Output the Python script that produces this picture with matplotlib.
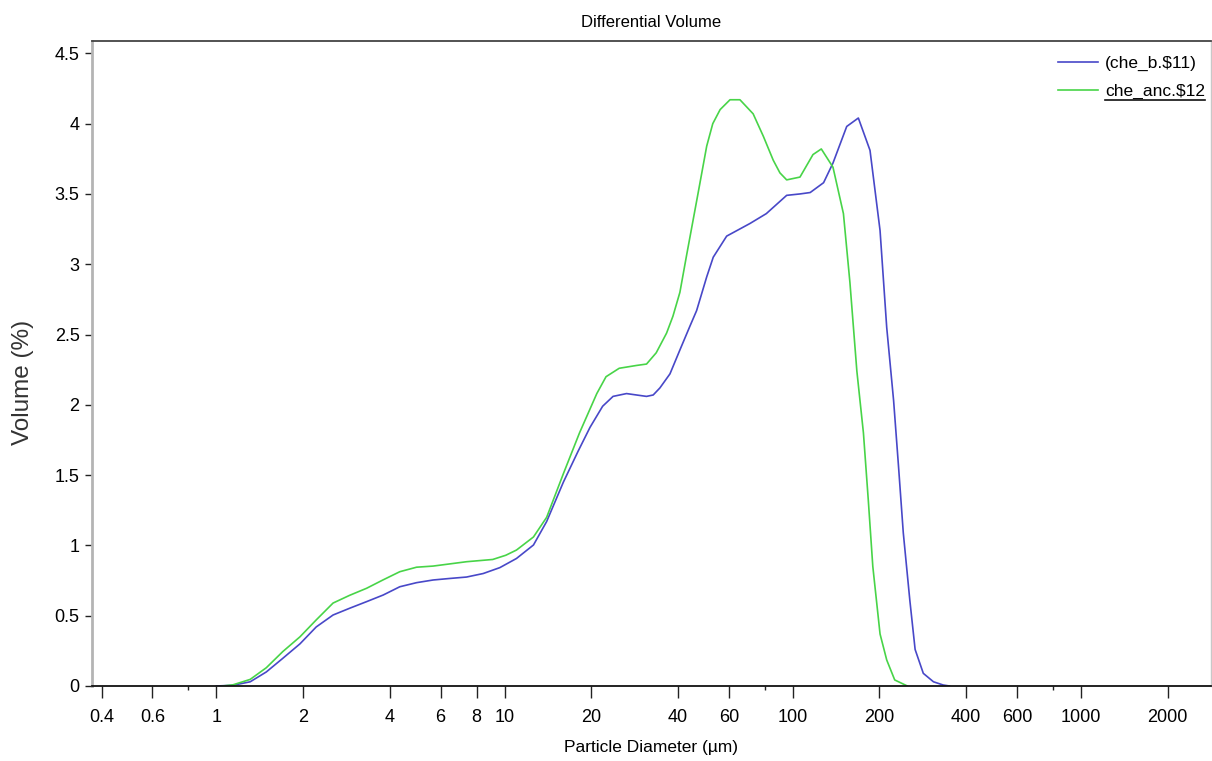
import matplotlib
matplotlib.use('Agg')
import matplotlib.pyplot as plt
from matplotlib.lines import Line2D
from matplotlib.ticker import FixedLocator, NullFormatter

# che_b.$11 (blue)
diam_b = [1.0, 1.14, 1.31, 1.49, 1.70, 1.95, 2.22, 2.54, 2.90, 3.32, 3.79, 4.33,
          4.95, 5.65, 6.46, 7.38, 8.43, 9.63, 11.0, 12.6, 14.0, 16.0, 18.0, 19.8,
          21.9, 23.8, 26.5, 28.7, 31.1, 32.8, 34.6, 37.5, 40.6, 44.0, 46.4, 50.3,
          53.0, 59.0, 71.1, 81.0, 95.3, 106, 115, 128, 138, 154, 169, 185.5,
          201, 212, 224, 233, 242, 255, 266, 284, 308, 333, 350]
vol_b = [0.0, 0.005, 0.03, 0.10, 0.197, 0.30, 0.42, 0.505, 0.553, 0.60, 0.647, 0.706,
         0.735, 0.754, 0.765, 0.775, 0.80, 0.842, 0.907, 1.003, 1.17, 1.45, 1.67, 1.84,
         1.99, 2.06, 2.08, 2.07, 2.06, 2.07, 2.12, 2.22, 2.39, 2.56, 2.67, 2.91,
         3.05, 3.20, 3.29, 3.36, 3.49, 3.50, 3.51, 3.58, 3.72, 3.98, 4.04, 3.81,
         3.24, 2.55, 2.03, 1.56, 1.09, 0.61, 0.26, 0.09, 0.03, 0.007, 0.0]

# che_anc.$12 (green)
diam_g = [1.05, 1.14, 1.31, 1.49, 1.70, 1.95, 2.22, 2.54, 2.90, 3.32, 3.79, 4.33,
          4.95, 5.65, 7.38, 9.1, 10.1, 11.0, 12.6, 14.0, 16.0, 18.2, 20.9, 22.5,
          25.0, 28.7, 31.1, 33.6, 36.5, 38.4, 40.6, 42.8, 46.9, 50.3, 52.8,
          56.0, 60.6, 65.6, 72.9, 79.1, 85.6, 90.3, 95.3, 106, 117.6, 125.7, 138,
          150, 158, 167, 176, 183, 189.7, 201, 212, 226, 250]
vol_g = [0.0, 0.008, 0.047, 0.13, 0.245, 0.35, 0.47, 0.59, 0.645, 0.695, 0.755, 0.813,
         0.845, 0.853, 0.884, 0.90, 0.93, 0.967, 1.06, 1.20, 1.51, 1.80, 2.08, 2.20,
         2.26, 2.28, 2.29, 2.37, 2.51, 2.63, 2.80, 3.06, 3.50, 3.84, 4.0,
         4.10, 4.17, 4.17, 4.07, 3.91, 3.74, 3.65, 3.60, 3.62, 3.78, 3.82, 3.69,
         3.36, 2.87, 2.24, 1.80, 1.32, 0.85, 0.37, 0.185, 0.043, 0.0]

labels = ['(che_b.\\$11)', 'che_anc.\\$12']
colors = ['#4848c8', '#48d448']

x_major = [0.4, 0.6, 1, 2, 4, 6, 8, 10, 20, 40, 60, 100, 200, 400, 600, 1000, 2000]
x_minor = [0.8, 80, 800]
y_major = [0, 0.5, 1, 1.5, 2, 2.5, 3, 3.5, 4, 4.5]

plt.rcParams['font.family'] = ['Liberation Sans', 'DejaVu Sans']
fs = 13

W, H = 1212, 761
fig = plt.figure(figsize=(W / 100, H / 100), dpi=100)
ax = fig.add_axes([92 / W, 1 - 686 / H, (1211 - 92) / W, (686 - 40.7) / H])

for d, v, c, lab in zip([diam_b, diam_g], [vol_b, vol_g], colors, labels):
    ax.plot(d, v, color=c, linewidth=1.2, label=lab)

ax.set_xscale('log')
ax.set_xlim(0.37, 2830)
ax.set_ylim(0, 4.59)

ax.xaxis.set_major_locator(FixedLocator(x_major))
ax.xaxis.set_minor_locator(FixedLocator(x_minor))
ax.xaxis.set_minor_formatter(NullFormatter())
ax.set_xticklabels(['%g' % v for v in x_major])
ax.set_yticks(y_major)
ax.set_yticklabels(['%g' % v for v in y_major])

ax.tick_params(axis='x', which='major', length=8.5, width=1, pad=8,
               labelsize=fs, color='#222222')
ax.tick_params(axis='x', which='minor', length=3, width=1, color='#222222')
ax.tick_params(axis='y', length=5, width=1, pad=4, labelsize=fs, color='#222222')

# frame: gray left/right, dark top/bottom
ax.spines['left'].set_color('#b4b4b4')
ax.spines['left'].set_linewidth(2)
ax.spines['right'].set_color('#c8c8c8')
ax.spines['right'].set_linewidth(1)
ax.spines['top'].set_color('#444444')
ax.spines['top'].set_linewidth(1.3)
ax.spines['bottom'].set_color('#111111')
ax.spines['bottom'].set_linewidth(1.3)

ax.set_title('Differential Volume', fontsize=12, pad=10)
ax.set_xlabel('Particle Diameter (\u00b5m)', fontsize=12.5, labelpad=10)
ax.set_ylabel('Volume (%)', fontsize=17.5, color='#333333')
ax.yaxis.set_label_coords(-0.052, 0.47)

leg = ax.legend(loc='upper right', bbox_to_anchor=(0.9946, 0.977), frameon=False,
                fontsize=12.5, handlelength=2.3, handletextpad=0.4,
                labelspacing=0.75, borderpad=0, borderaxespad=0)

# underline the second legend entry
fig.canvas.draw()
bb = leg.get_texts()[1].get_window_extent()
fig.add_artist(Line2D([bb.x0 / W, bb.x1 / W], [(bb.y0 - 1) / H, (bb.y0 - 1) / H],
                      transform=fig.transFigure, color='#111111', linewidth=1.2))

fig.savefig('out.png', dpi=100)
